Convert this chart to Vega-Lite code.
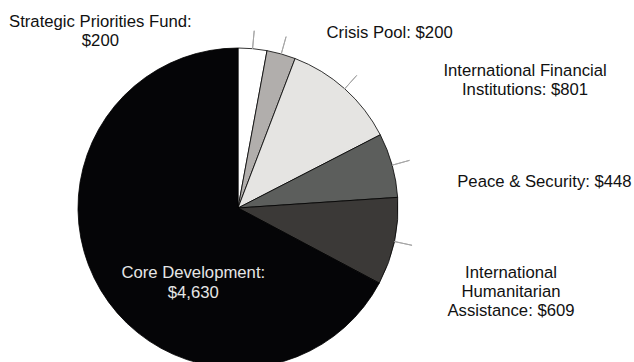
{
  "$schema": "https://vega.github.io/schema/vega-lite/v6.json",
  "width": 476,
  "height": 416,
  "autosize": {"type": "none"},
  "padding": {"left": 0, "top": 0, "right": 158, "bottom": 0},
  "background": "white",
  "config": {"view": {"stroke": null}, "font": "Liberation Sans"},
  "data": {
    "values": [
      {"category": "Strategic Priorities Fund", "value": 200, "order": 1, "label": "Strategic Priorities Fund:\n$200"},
      {"category": "Crisis Pool", "value": 200, "order": 2, "label": "Crisis Pool: $200"},
      {"category": "International Financial Institutions", "value": 801, "order": 3, "label": "International Financial\nInstitutions: $801"},
      {"category": "Peace & Security", "value": 448, "order": 4, "label": "Peace & Security: $448"},
      {"category": "International Humanitarian Assistance", "value": 609, "order": 5, "label": "International\nHumanitarian\nAssistance: $609"},
      {"category": "Core Development", "value": 4630, "order": 6, "label": "Core Development:\n$4,630"}
    ]
  },
  "transform": [
    {"stack": "value", "groupby": [], "sort": [{"field": "order", "order": "ascending"}], "as": ["start", "end"]},
    {"calculate": "(datum.start + datum.end) / 2", "as": "mid"}
  ],
  "layer": [
    {
      "mark": {"type": "arc", "outerRadius": 160, "stroke": "#000000", "strokeWidth": 0.8},
      "encoding": {
        "theta": {"field": "start", "type": "quantitative", "stack": null, "scale": {"domain": [0, 6888], "nice": false}},
        "theta2": {"field": "end"},
        "color": {
          "field": "category",
          "type": "nominal",
          "scale": {
            "domain": ["Strategic Priorities Fund", "Crisis Pool", "International Financial Institutions", "Peace & Security", "International Humanitarian Assistance", "Core Development"],
            "range": ["#ffffff", "#b1aeac", "#e5e4e2", "#5c5e5c", "#3b3937", "#050507"]
          },
          "legend": null
        }
      }
    },
    {
      "transform": [{"filter": "datum.category != 'Core Development'"}],
      "mark": {"type": "arc", "innerRadius": 160, "outerRadius": 178, "fillOpacity": 0, "stroke": "#a6a6a6", "strokeWidth": 1},
      "encoding": {
        "theta": {"field": "mid", "type": "quantitative", "stack": null},
        "theta2": {"field": "mid"}
      }
    },
    {
      "transform": [{"filter": "datum.order == 1"}],
      "mark": {"type": "text", "radius": 180, "dx": -154, "dy": -7, "align": "center", "baseline": "middle", "lineBreak": "\n", "lineHeight": 19, "fontSize": 16.7, "fill": "#111111"},
      "encoding": {"theta": {"field": "mid", "type": "quantitative", "stack": null}, "text": {"field": "label"}}
    },
    {
      "transform": [{"filter": "datum.order == 2"}],
      "mark": {"type": "text", "radius": 180, "dx": 103, "dy": -2, "align": "center", "baseline": "middle", "lineBreak": "\n", "lineHeight": 19, "fontSize": 16.7, "fill": "#111111"},
      "encoding": {"theta": {"field": "mid", "type": "quantitative", "stack": null}, "text": {"field": "label"}}
    },
    {
      "transform": [{"filter": "datum.order == 3"}],
      "mark": {"type": "text", "radius": 180, "dx": 167, "dy": -3, "align": "center", "baseline": "middle", "lineBreak": "\n", "lineHeight": 19, "fontSize": 16.7, "fill": "#111111"},
      "encoding": {"theta": {"field": "mid", "type": "quantitative", "stack": null}, "text": {"field": "label"}}
    },
    {
      "transform": [{"filter": "datum.order == 4"}],
      "mark": {"type": "text", "radius": 180, "dx": 133, "dy": 22, "align": "center", "baseline": "middle", "lineBreak": "\n", "lineHeight": 19, "fontSize": 16.7, "fill": "#111111"},
      "encoding": {"theta": {"field": "mid", "type": "quantitative", "stack": null}, "text": {"field": "label"}}
    },
    {
      "transform": [{"filter": "datum.order == 5"}],
      "mark": {"type": "text", "radius": 180, "dx": 97, "dy": 27, "align": "center", "baseline": "middle", "lineBreak": "\n", "lineHeight": 19, "fontSize": 16.7, "fill": "#111111"},
      "encoding": {"theta": {"field": "mid", "type": "quantitative", "stack": null}, "text": {"field": "label"}}
    },
    {
      "transform": [{"filter": "datum.order == 6"}],
      "mark": {"type": "text", "radius": 100, "dx": 41, "dy": 14, "align": "center", "baseline": "middle", "lineBreak": "\n", "lineHeight": 20, "fontSize": 16.7, "fill": "#e6e6e6"},
      "encoding": {"theta": {"field": "mid", "type": "quantitative", "stack": null}, "text": {"field": "label"}}
    }
  ]
}
